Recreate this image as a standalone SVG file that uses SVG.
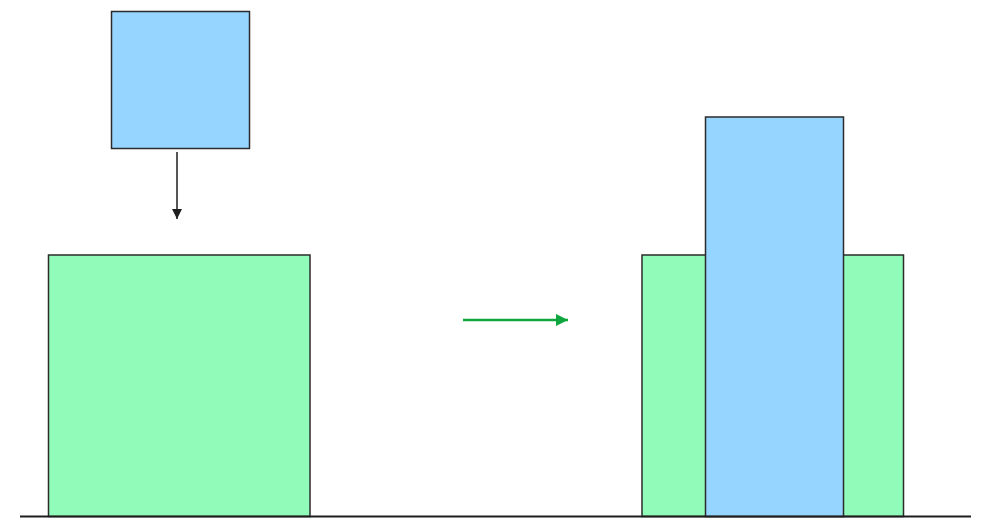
<svg xmlns="http://www.w3.org/2000/svg" width="1000" height="531" viewBox="0 0 1000 531">
<style>
.box{stroke:#2b2b2b;stroke-width:1.5}
.blue{fill:#96d5ff}
.green{fill:#91fcb9}
</style>
<defs>
<marker id="ah" markerWidth="10" markerHeight="10" refX="10" refY="5" orient="auto" markerUnits="userSpaceOnUse"><path d="M0,0 L10,5 L0,10 z" fill="#1e1e1e"/></marker>
<marker id="ahg" markerWidth="12" markerHeight="12" refX="12" refY="6" orient="auto" markerUnits="userSpaceOnUse"><path d="M0,0 L12,6 L0,12 z" fill="#0ea73f"/></marker>
</defs>
<rect width="1000" height="531" fill="#ffffff"/>
<g id="block-falling"><rect class="box blue" x="111.5" y="11.5" width="138" height="137"/></g>
<g id="tank-left"><rect class="box green" x="48.5" y="255" width="261.5" height="261.5"/></g>
<g id="tank-right"><rect class="box green" x="642" y="255" width="261.5" height="261.5"/></g>
<g id="block-submerged"><rect class="box blue" x="705.5" y="117" width="138" height="399.5"/></g>
<g id="ground"><line x1="20" y1="516.5" x2="971" y2="516.5" stroke="#1e1e1e" stroke-width="2"/></g>
<g id="connectors">
<line x1="177" y1="152" x2="177" y2="219" stroke="#1e1e1e" stroke-width="1.5" marker-end="url(#ah)"/>
<line x1="463" y1="320" x2="568" y2="320" stroke="#0ea73f" stroke-width="2.5" marker-end="url(#ahg)"/>
</g>
</svg>
